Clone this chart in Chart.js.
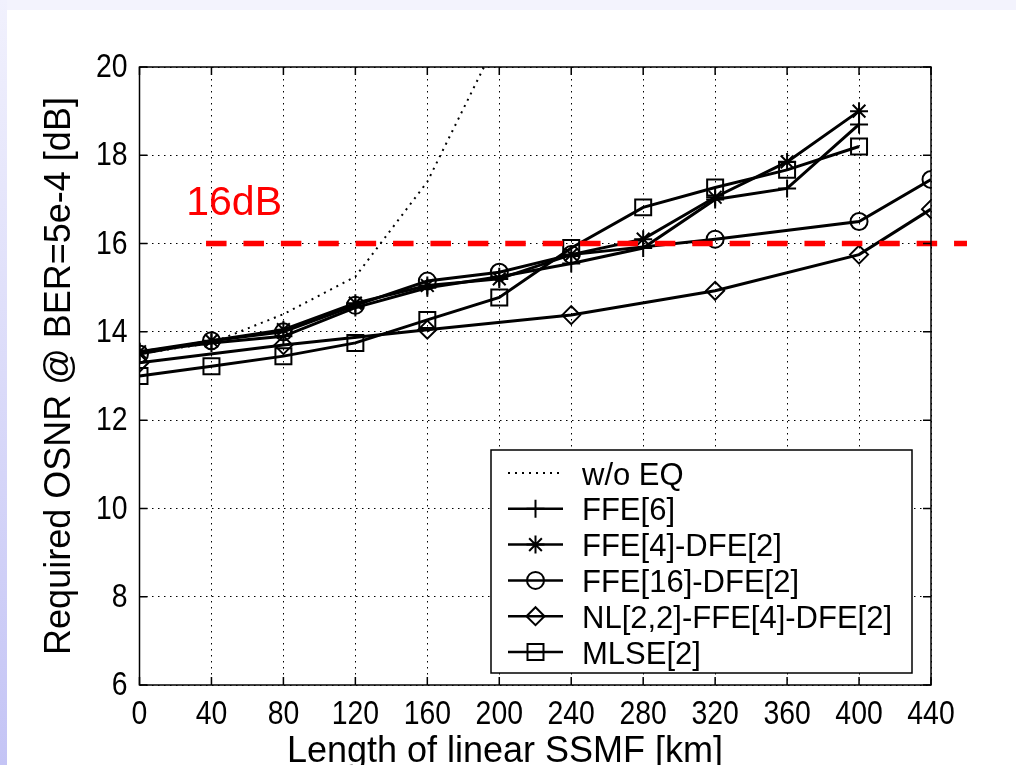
<!DOCTYPE html>
<html>
<head>
<meta charset="utf-8">
<title>Required OSNR vs SSMF length</title>
<script src="https://cdn.jsdelivr.net/npm/chart.js@4.4.0/dist/chart.umd.min.js"></script>
<style>
  html, body { margin: 0; padding: 0; background: #fff; }
  canvas { display: block; }
</style>
</head>
<body>
<canvas id="osnrChart" width="1016" height="765"></canvas>
<script>
// fibre length in km, shared by every curve (null = not measured)
const distanceKm = [0, 40, 80, 120, 160, 200, 240, 280, 320, 360, 400, 440];

// required OSNR [dB] at BER = 5e-4
const withoutEq = [13.5, 13.75, 14.4, 15.25, 17.4, 20.7, null, null, null, null, null, null];
const ffe6      = [13.55, 13.75, 13.9, 14.55, 15.0, 15.25, 15.55, 15.9, 17.0, 17.25, 18.7, null];
const ffe4Dfe2  = [13.55, 13.8, 14.05, 14.65, 15.05, 15.2, 15.75, 16.1, 17.05, 17.85, 19.0, null];
const ffe16Dfe2 = [13.5, 13.8, 14.0, 14.6, 15.15, 15.35, 15.75, null, 16.1, null, 16.5, 17.45];
const nlFfeDfe  = [13.3, null, 13.7, null, 14.05, null, 14.38, null, 14.93, null, 15.75, 16.78];
const mlse2     = [13.0, 13.22, 13.45, 13.75, 14.27, 14.78, 15.9, 16.82, 17.27, 17.67, 18.2, null];

const seriesNames = ['w/o EQ', 'FFE[6]', 'FFE[4]-DFE[2]', 'FFE[16]-DFE[2]', 'NL[2,2]-FFE[4]-DFE[2]', 'MLSE[2]'];

// 16 dB reference line and where it is drawn
const thresholdDb = 16;
const thresholdSpanKm = [37, 460];

const xTicks = { min: 0, max: 440, step: 40 };
const yTicks = { min: 6, max: 20, step: 2 };

const xTitle = 'Length of linear SSMF [km]';
const yTitle = 'Required OSNR @ BER=5e-4 [dB]';

const sans = "'Liberation Sans', Arial, sans-serif";
const titleFont = { family: sans, size: 36, lineHeight: 1.2 };

function points(values) {
  return distanceKm
    .map((km, i) => ({ x: km, y: values[i] }))
    .filter((p) => p.y !== null);
}

function curve(label, values, pointStyle, radius) {
  return {
    label: label,
    data: points(values),
    borderColor: '#000',
    backgroundColor: 'rgba(0,0,0,0)',
    borderWidth: 3,
    pointStyle: pointStyle,
    pointRadius: radius,
    pointBorderWidth: 2,
    pointBorderColor: '#000',
    pointBackgroundColor: 'rgba(0,0,0,0)',
  };
}

const pageBackground = {
  id: 'pageBackground',
  beforeDraw(chart) {
    const { ctx, width, height } = chart;
    ctx.save();
    ctx.fillStyle = '#ffffff';
    ctx.fillRect(0, 0, width, height);
    ctx.fillStyle = '#f3f3fd';
    ctx.fillRect(0, 0, width, 10);
    const g = ctx.createLinearGradient(0, 0, 0, height);
    g.addColorStop(0, '#f1f1fd');
    g.addColorStop(1, '#c4c4f5');
    ctx.fillStyle = g;
    ctx.fillRect(0, 0, 7, height);
    ctx.restore();
  },
};

// narrow tick numbers (condensed by scaling the glyphs horizontally)
function narrowText(ctx, text, x, y, align) {
  ctx.save();
  ctx.translate(x, y);
  ctx.scale(0.86, 1);
  ctx.textAlign = align;
  ctx.fillText(text, 0, 0);
  ctx.restore();
}

// solid frame with inward tick marks on all four sides, plus tick numbers and x title
const axesBox = {
  id: 'axesBox',
  afterDatasetsDraw(chart) {
    const { ctx, chartArea: a, scales } = chart;
    const len = 8;
    ctx.save();
    ctx.strokeStyle = '#000';
    ctx.lineWidth = 1.5;
    ctx.beginPath();
    scales.x.ticks.forEach((t) => {
      const px = scales.x.getPixelForValue(t.value);
      ctx.moveTo(px, a.bottom);
      ctx.lineTo(px, a.bottom - len);
      ctx.moveTo(px, a.top);
      ctx.lineTo(px, a.top + len);
    });
    scales.y.ticks.forEach((t) => {
      const py = scales.y.getPixelForValue(t.value);
      ctx.moveTo(a.left, py);
      ctx.lineTo(a.left + len, py);
      ctx.moveTo(a.right, py);
      ctx.lineTo(a.right - len, py);
    });
    ctx.stroke();
    ctx.strokeRect(a.left, a.top, a.right - a.left, a.bottom - a.top);

    ctx.fillStyle = '#000';
    ctx.font = '33px ' + sans;
    ctx.textBaseline = 'middle';
    scales.x.ticks.forEach((t) => {
      narrowText(ctx, String(t.value), scales.x.getPixelForValue(t.value), a.bottom + 30, 'center');
    });
    scales.y.ticks.forEach((t) => {
      narrowText(ctx, String(t.value), a.left - 12, scales.y.getPixelForValue(t.value) + 1, 'right');
    });

    ctx.font = '36px ' + sans;
    ctx.textAlign = 'center';
    ctx.textBaseline = 'alphabetic';
    ctx.fillText(xTitle, 505, 762);

    // label for the reference line
    ctx.fillStyle = '#ff0000';
    ctx.font = '41px ' + sans;
    ctx.textAlign = 'left';
    ctx.fillText(thresholdDb + 'dB', scales.x.getPixelForValue(26), scales.y.getPixelForValue(thresholdDb + 0.65));
    ctx.restore();
  },
};

// boxed legend: line sample with marker, then the name
const boxLegend = {
  id: 'boxLegend',
  afterDraw(chart) {
    const { ctx } = chart;
    const box = { left: 491, top: 450, right: 912, bottom: 673 };
    const rowH = 35.8;
    ctx.save();
    ctx.fillStyle = '#fff';
    ctx.fillRect(box.left, box.top, box.right - box.left, box.bottom - box.top);
    ctx.strokeStyle = '#000';
    ctx.lineWidth = 1.5;
    ctx.strokeRect(box.left, box.top, box.right - box.left, box.bottom - box.top);

    const entries = chart.data.datasets.filter((ds) => ds.inLegend !== false);
    entries.forEach((ds, i) => {
      const y = box.top + 23 + i * rowH;
      ctx.save();
      ctx.strokeStyle = ds.borderColor;
      ctx.lineWidth = ds.borderDash ? 2 : 2.5;
      ctx.setLineDash(ds.borderDash || []);
      ctx.beginPath();
      ctx.moveTo(508, y);
      ctx.lineTo(563, y);
      ctx.stroke();
      ctx.restore();
      if (ds.pointRadius > 0) {
        ctx.save();
        ctx.strokeStyle = '#000';
        ctx.fillStyle = 'rgba(0,0,0,0)';
        ctx.lineWidth = ds.pointBorderWidth;
        Chart.helpers.drawPoint(ctx, {
          pointStyle: ds.pointStyle,
          radius: ds.pointRadius,
          rotation: 0,
          borderWidth: ds.pointBorderWidth,
        }, 535.5, y);
        ctx.restore();
      }
      ctx.fillStyle = '#000';
      ctx.font = '31px ' + sans;
      ctx.textBaseline = 'middle';
      ctx.fillText(ds.label, 582, y + 3);
    });
    ctx.restore();
  },
};

const datasets = [
  {
    label: seriesNames[0],
    data: points(withoutEq),
    borderColor: '#000',
    borderWidth: 2,
    borderDash: [2, 5],
    pointRadius: 0,
  },
  curve(seriesNames[1], ffe6, 'cross', 9),
  curve(seriesNames[2], ffe4Dfe2, 'star', 9),
  curve(seriesNames[3], ffe16Dfe2, 'circle', 8.5),
  curve(seriesNames[4], nlFfeDfe, 'rectRot', 9),
  curve(seriesNames[5], mlse2, 'rect', 11.3),
  {
    label: '16dB',
    inLegend: false,
    data: thresholdSpanKm.map((km) => ({ x: km, y: thresholdDb })),
    borderColor: '#ff0000',
    borderWidth: 5.5,
    borderDash: [20.5, 16.9],
    pointRadius: 0,
    clip: false,
    order: -1,
  },
];

new Chart(document.getElementById('osnrChart'), {
  type: 'line',
  data: { datasets: datasets },
  plugins: [pageBackground, axesBox, boxLegend],
  options: {
    responsive: false,
    animation: false,
    devicePixelRatio: 1,
    layout: { padding: { left: 0, top: 67, right: 85, bottom: 0 } },
    elements: { line: { tension: 0 } },
    plugins: {
      legend: { display: false },
      tooltip: { enabled: false },
    },
    scales: {
      x: {
        type: 'linear',
        min: xTicks.min,
        max: xTicks.max,
        afterFit(scale) { scale.height = 80; },
        ticks: { stepSize: xTicks.step, color: 'rgba(0,0,0,0)', maxRotation: 0, autoSkip: false },
        grid: { color: '#000', lineWidth: 1, drawTicks: false },
        border: { display: false, dash: [1.5, 4.5] },
      },
      y: {
        type: 'linear',
        min: yTicks.min,
        max: yTicks.max,
        afterFit(scale) { scale.width = 139.5; },
        ticks: { stepSize: yTicks.step, color: 'rgba(0,0,0,0)' },
        grid: { color: '#000', lineWidth: 1, drawTicks: false },
        border: { display: false, dash: [1.5, 4.5] },
        title: {
          display: true,
          text: yTitle,
          color: '#000',
          font: titleFont,
          padding: { top: 38, bottom: 0 },
        },
      },
    },
  },
});
</script>
</body>
</html>
